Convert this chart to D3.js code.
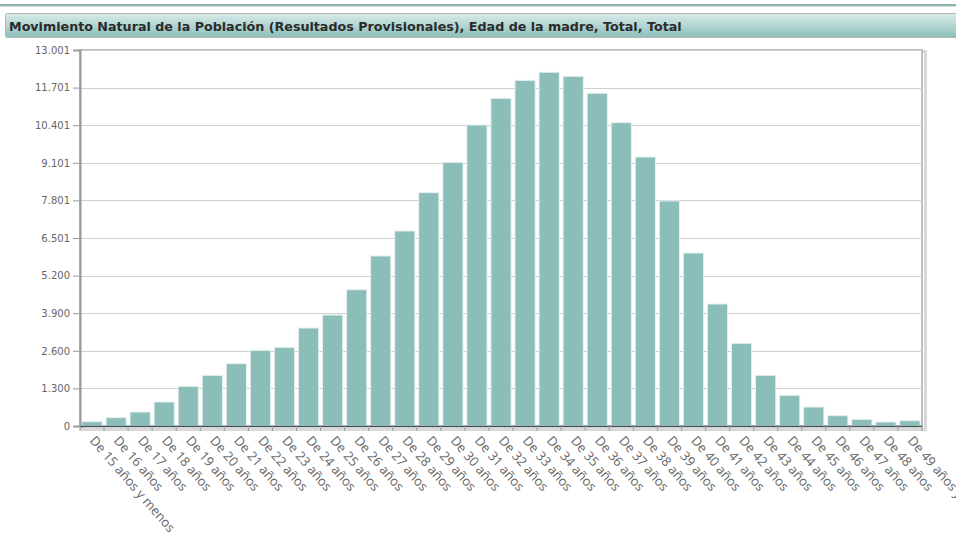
<!DOCTYPE html>
<html><head><meta charset="utf-8">
<script src="https://cdn.jsdelivr.net/npm/d3@7/dist/d3.min.js"></script>
<style>
html,body{margin:0;padding:0;background:#fff;overflow:hidden}
svg{display:block}
</style></head>
<body>
<svg id="c" width="956" height="537"></svg>
<script>
const title = "Movimiento Natural de la Población (Resultados Provisionales), Edad de la madre, Total, Total";
const categories = ["De 15 años y menos","De 16 años","De 17 años","De 18 años","De 19 años","De 20 años","De 21 años","De 22 años","De 23 años","De 24 años","De 25 años","De 26 años","De 27 años","De 28 años","De 29 años","De 30 años","De 31 años","De 32 años","De 33 años","De 34 años","De 35 años","De 36 años","De 37 años","De 38 años","De 39 años","De 40 años","De 41 años","De 42 años","De 43 años","De 44 años","De 45 años","De 46 años","De 47 años","De 48 años","De 49 años y más"];
const values = [150,290,484,830,1372,1752,2155,2617,2721,3389,3838,4714,5879,6743,8068,9118,10409,11330,11953,12231,12092,11505,10489,9302,7781,5982,4219,2859,1752,1061,657,357,230,138,184];
const yMax = 13001;
const yTicks = d3.range(11).map(i => yMax * i / 10);

const svg = d3.select("#c");
const defs = svg.append("defs");
const g1 = defs.append("linearGradient").attr("id","hdr").attr("x1",0).attr("y1",0).attr("x2",0).attr("y2",1);
g1.append("stop").attr("offset","0%").attr("stop-color","#d9ebe9");
g1.append("stop").attr("offset","100%").attr("stop-color","#8cbfba");

// top rule
svg.append("rect").attr("x",0).attr("y",4).attr("width",956).attr("height",2).attr("fill","#8fb0ad");
svg.append("rect").attr("x",0).attr("y",6).attr("width",956).attr("height",1).attr("fill","#d5e3e2");
// header bar
svg.append("rect").attr("x",5.5).attr("y",13.5).attr("width",960).attr("height",24)
  .attr("fill","url(#hdr)").attr("stroke","#b5b5b5").attr("stroke-width",1).attr("rx",2);
svg.append("text").attr("x",9).attr("y",30.5).text(title)
  .attr("font-family","DejaVu Sans, Verdana, sans-serif").attr("font-weight","bold")
  .attr("font-size","12.7px").attr("fill","#2b2b2b");

const m = {left:80, right:922, top:50, bottom:426};
const x = d3.scaleBand().domain(categories).range([m.left, m.right]).paddingInner(0.16).paddingOuter(0.08);
const y = d3.scaleLinear().domain([0, yMax]).range([m.bottom, m.top]);

// plot frame shadow
svg.append("rect").attr("x",m.left).attr("y",m.top).attr("width",m.right-m.left+2).attr("height",m.bottom-m.top+2)
  .attr("fill","none").attr("stroke","#d8d8d8").attr("stroke-width",3).attr("transform","translate(1.5,1.5)");
svg.append("rect").attr("x",m.left).attr("y",m.top).attr("width",m.right-m.left).attr("height",m.bottom-m.top)
  .attr("fill","#fff").attr("stroke","#a8a8a8").attr("stroke-width",1.5);

// gridlines
svg.append("g").selectAll("line").data(yTicks.slice(1)).join("line")
  .attr("x1",m.left).attr("x2",m.right).attr("y1",d=>Math.round(y(d))+0.5).attr("y2",d=>Math.round(y(d))+0.5)
  .attr("stroke","#cfcfcf").attr("stroke-width",1);

// bars
svg.append("g").selectAll("rect").data(values).join("rect")
  .attr("x",(d,i)=>x(categories[i])).attr("width",x.bandwidth())
  .attr("y",d=>y(d)).attr("height",d=>m.bottom-y(d))
  .attr("fill","#8bbdb9").attr("stroke","#e6f1f0").attr("stroke-width",1);

// y axis
const fmt = v => d3.format(",")(Math.round(v)).replace(/,/g,".");
const ya = svg.append("g").attr("transform",`translate(${m.left},0)`)
  .call(d3.axisLeft(y).tickValues(yTicks).tickFormat(fmt).tickSize(7).tickPadding(3));
ya.select(".domain").attr("stroke","#9a9a9a").attr("stroke-width",2);
ya.selectAll(".tick line").attr("stroke","#9a9a9a");
ya.selectAll("text").attr("font-family","DejaVu Sans, sans-serif").attr("font-size","10px").attr("fill","#666");

// x axis
const xa = svg.append("g").attr("transform",`translate(0,${m.bottom})`)
  .call(d3.axisBottom(x).tickSize(0).tickSizeOuter(0).tickPadding(0));
xa.select(".domain").attr("stroke","#3f5452").attr("stroke-width",1.5);
xa.selectAll(".tick text")
  .attr("font-family","Open Sans, sans-serif").attr("font-size","13px").attr("fill","#666")
  .attr("text-anchor","start").attr("dy",0).attr("y",0)
  .attr("transform","translate(-3,15) rotate(49)");
// boundary tick marks
svg.append("g").selectAll("line").data(d3.range(categories.length+1)).join("line")
  .attr("x1",i=>m.left + i*(m.right-m.left)/categories.length).attr("x2",i=>m.left + i*(m.right-m.left)/categories.length)
  .attr("y1",m.bottom).attr("y2",m.bottom+5).attr("stroke","#9a9a9a");
</script>
</body></html>
